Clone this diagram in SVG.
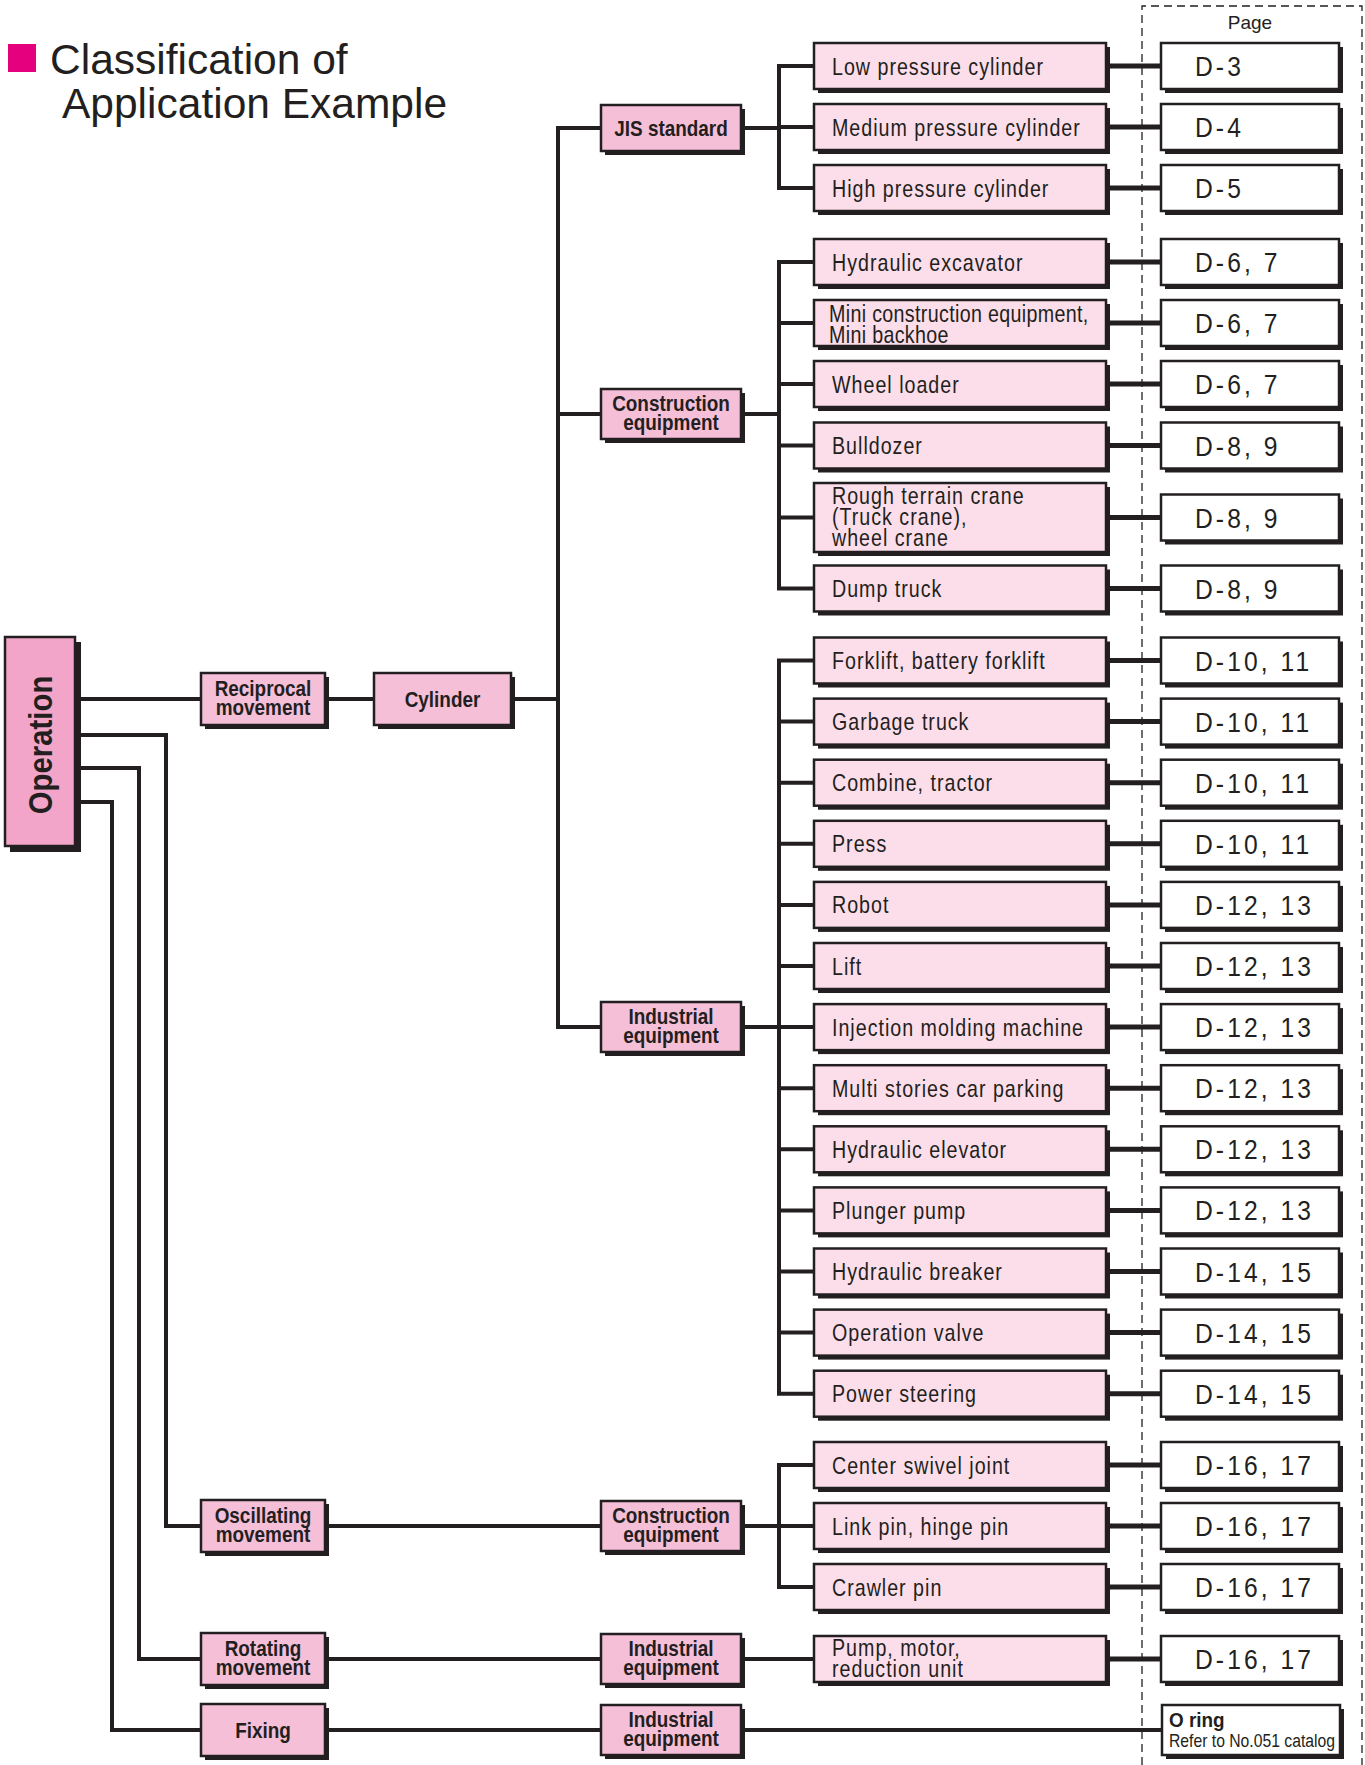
<svg xmlns="http://www.w3.org/2000/svg" width="1365" height="1765" viewBox="0 0 1365 1765">
<style>
.ln{stroke:#231f20;stroke-width:4;fill:none;stroke-linejoin:miter}
.lp{stroke:#231f20;stroke-width:5;fill:none}
.sh{fill:#231f20}
.op{fill:#f2a5c8;stroke:#231f20;stroke-width:2.5}
.lv{fill:#f6bfd8;stroke:#231f20;stroke-width:2.5}
.it{fill:#fcdeea;stroke:#231f20;stroke-width:2.5}
.pg{fill:#ffffff;stroke:#231f20;stroke-width:2.5}
text{fill:#231f20}
.ti{font-family:"Liberation Sans",Arial,sans-serif;font-size:42.5px}
.tit{font-family:"Liberation Sans",Arial,sans-serif;font-size:24px;letter-spacing:1.2px}
.tlv{font-family:"Liberation Sans",Arial,sans-serif;font-size:21.5px;font-weight:bold;text-anchor:middle}
.tpg{font-family:"Liberation Sans",Arial,sans-serif;font-size:28px;letter-spacing:3.5px}
.tpage{font-family:"Liberation Sans",Arial,sans-serif;font-size:19px;text-anchor:middle}
</style>

<g id="title">
<rect x="8" y="44" width="28" height="28" fill="#e5007e"/>
<text class="ti" x="50" y="74">Classification of</text>
<text class="ti" x="62" y="118">Application Example</text>
</g>

<g id="page-frame">
<path d="M1142,1765 V6 H1362 V1765" fill="none" stroke="#231f20" stroke-width="1.3" stroke-dasharray="8 5"/>
<text class="tpage" x="1250" y="29">Page</text>
</g>

<g id="connectors">
<path class="ln" d="M75,699 H201 M325,699 H374 M511,699 H558"/>
<path class="ln" d="M601,128 H558 V1027 H601 M558,414 H601"/>
<path class="ln" d="M741,128 H779 M814,66 H779 V188 H814 M779,127 H814"/>
<path class="ln" d="M741,414 H779 M814,262 H779 V588.5 H814 M779,323 H814 M779,384 H814 M779,445.5 H814 M779,517.5 H814"/>
<path class="ln" d="M741,1027 H779 M814,660.5 H779 V1393.7 H814 M779,721.6 H814 M779,782.7 H814 M779,843.8 H814 M779,904.9 H814 M779,966 H814 M779,1027.1 H814 M779,1088.2 H814 M779,1149.3 H814 M779,1210.4 H814 M779,1271.5 H814 M779,1332.6 H814"/>
<path class="ln" d="M741,1526 H779 M814,1465 H779 V1587 H814 M779,1526 H814"/>
<path class="ln" d="M741,1659 H814"/>
<path class="ln" d="M741,1730 H1162"/>
<path class="ln" d="M75,735 H166 V1526 H201 M75,768 H139 V1659 H201 M75,802 H112 V1730 H201"/>
<path class="ln" d="M325,1526 H601 M325,1659 H601 M325,1730 H601"/>
<path class="lp" d="M1106,66 H1161 M1106,127 H1161 M1106,188 H1161 M1106,262 H1161 M1106,323 H1161 M1106,384 H1161 M1106,445.5 H1161 M1106,517.5 H1161 M1106,588.5 H1161 M1106,660.5 H1161 M1106,721.6 H1161 M1106,782.7 H1161 M1106,843.8 H1161 M1106,904.9 H1161 M1106,966 H1161 M1106,1027.1 H1161 M1106,1088.2 H1161 M1106,1149.3 H1161 M1106,1210.4 H1161 M1106,1271.5 H1161 M1106,1332.6 H1161 M1106,1393.7 H1161 M1106,1465 H1161 M1106,1526 H1161 M1106,1587 H1161 M1106,1659 H1161"/>
</g>

<g id="operation">
<rect class="sh" x="10" y="642" width="71" height="210"/>
<rect class="op" x="5" y="637" width="70" height="209"/>
<text class="tlv" style="font-size:33px" transform="translate(52,745) rotate(-90) scale(0.89,1)">Operation</text>
</g>

<g id="reciprocal">
<rect class="sh" x="205" y="677" width="124" height="52"/>
<rect class="lv" x="201" y="673" width="124" height="52"/>
<text class="tlv" transform="translate(263,696) scale(0.88,1)">Reciprocal</text>
<text class="tlv" transform="translate(263,715) scale(0.88,1)">movement</text>
</g>
<g id="cylinder">
<rect class="sh" x="378" y="677" width="137" height="52"/>
<rect class="lv" x="374" y="673" width="137" height="52"/>
<text class="tlv" transform="translate(442.5,707) scale(0.88,1)">Cylinder</text>
</g>
<g id="oscillating">
<rect class="sh" x="205" y="1504" width="124" height="52"/>
<rect class="lv" x="201" y="1500" width="124" height="52"/>
<text class="tlv" transform="translate(263,1523) scale(0.88,1)">Oscillating</text>
<text class="tlv" transform="translate(263,1542) scale(0.88,1)">movement</text>
</g>
<g id="rotating">
<rect class="sh" x="205" y="1637" width="124" height="52"/>
<rect class="lv" x="201" y="1633" width="124" height="52"/>
<text class="tlv" transform="translate(263,1656) scale(0.88,1)">Rotating</text>
<text class="tlv" transform="translate(263,1675) scale(0.88,1)">movement</text>
</g>
<g id="fixing">
<rect class="sh" x="205" y="1708" width="124" height="52"/>
<rect class="lv" x="201" y="1704" width="124" height="52"/>
<text class="tlv" transform="translate(263,1738) scale(0.88,1)">Fixing</text>
</g>

<g id="jis">
<rect class="sh" x="605" y="109" width="140" height="46"/>
<rect class="lv" x="601" y="105" width="140" height="46"/>
<text class="tlv" transform="translate(671,136) scale(0.88,1)">JIS standard</text>
</g>
<g id="construction1">
<rect class="sh" x="605" y="393" width="140" height="50"/>
<rect class="lv" x="601" y="389" width="140" height="50"/>
<text class="tlv" transform="translate(671,411) scale(0.88,1)">Construction</text>
<text class="tlv" transform="translate(671,430) scale(0.88,1)">equipment</text>
</g>
<g id="industrial1">
<rect class="sh" x="605" y="1006" width="140" height="50"/>
<rect class="lv" x="601" y="1002" width="140" height="50"/>
<text class="tlv" transform="translate(671,1024) scale(0.88,1)">Industrial</text>
<text class="tlv" transform="translate(671,1043) scale(0.88,1)">equipment</text>
</g>
<g id="construction2">
<rect class="sh" x="605" y="1505" width="140" height="50"/>
<rect class="lv" x="601" y="1501" width="140" height="50"/>
<text class="tlv" transform="translate(671,1523) scale(0.88,1)">Construction</text>
<text class="tlv" transform="translate(671,1542) scale(0.88,1)">equipment</text>
</g>
<g id="industrial2">
<rect class="sh" x="605" y="1638" width="140" height="50"/>
<rect class="lv" x="601" y="1634" width="140" height="50"/>
<text class="tlv" transform="translate(671,1656) scale(0.88,1)">Industrial</text>
<text class="tlv" transform="translate(671,1675) scale(0.88,1)">equipment</text>
</g>
<g id="industrial3">
<rect class="sh" x="605" y="1709" width="140" height="50"/>
<rect class="lv" x="601" y="1705" width="140" height="50"/>
<text class="tlv" transform="translate(671,1727) scale(0.88,1)">Industrial</text>
<text class="tlv" transform="translate(671,1746) scale(0.88,1)">equipment</text>
</g>

<g id="items">
<g id="i-low"><rect class="sh" x="818" y="47" width="292" height="46"/><rect class="it" x="814" y="43" width="292" height="46"/><text class="tit" transform="translate(832,74.5) scale(0.82,1)">Low pressure cylinder</text></g>
<g id="i-med"><rect class="sh" x="818" y="108" width="292" height="46"/><rect class="it" x="814" y="104" width="292" height="46"/><text class="tit" transform="translate(832,135.5) scale(0.82,1)">Medium pressure cylinder</text></g>
<g id="i-high"><rect class="sh" x="818" y="169" width="292" height="46"/><rect class="it" x="814" y="165" width="292" height="46"/><text class="tit" transform="translate(832,196.5) scale(0.82,1)">High pressure cylinder</text></g>

<g id="i-exc"><rect class="sh" x="818" y="243" width="292" height="46"/><rect class="it" x="814" y="239" width="292" height="46"/><text class="tit" transform="translate(832,270.5) scale(0.82,1)">Hydraulic excavator</text></g>
<g id="i-mini"><rect class="sh" x="818" y="304" width="292" height="46"/><rect class="it" x="814" y="300" width="292" height="46"/><text class="tit" style="letter-spacing:0.4px" transform="translate(829,322) scale(0.82,1)">Mini construction equipment,</text><text class="tit" style="letter-spacing:0.4px" transform="translate(829,343) scale(0.82,1)">Mini backhoe</text></g>
<g id="i-wheel"><rect class="sh" x="818" y="365" width="292" height="46"/><rect class="it" x="814" y="361" width="292" height="46"/><text class="tit" transform="translate(832,392.5) scale(0.82,1)">Wheel loader</text></g>
<g id="i-bull"><rect class="sh" x="818" y="426.5" width="292" height="46"/><rect class="it" x="814" y="422.5" width="292" height="46"/><text class="tit" transform="translate(832,454) scale(0.82,1)">Bulldozer</text></g>
<g id="i-rough"><rect class="sh" x="818" y="487" width="292" height="69"/><rect class="it" x="814" y="483" width="292" height="69"/><text class="tit" transform="translate(832,504) scale(0.82,1)">Rough terrain crane</text><text class="tit" transform="translate(832,525) scale(0.82,1)">(Truck crane),</text><text class="tit" transform="translate(832,546) scale(0.82,1)">wheel crane</text></g>
<g id="i-dump"><rect class="sh" x="818" y="569.5" width="292" height="46"/><rect class="it" x="814" y="565.5" width="292" height="46"/><text class="tit" transform="translate(832,597) scale(0.82,1)">Dump truck</text></g>

<g id="i-fork"><rect class="sh" x="818" y="641.5" width="292" height="46"/><rect class="it" x="814" y="637.5" width="292" height="46"/><text class="tit" transform="translate(832,669) scale(0.82,1)">Forklift, battery forklift</text></g>
<g id="i-garb"><rect class="sh" x="818" y="702.6" width="292" height="46"/><rect class="it" x="814" y="698.6" width="292" height="46"/><text class="tit" transform="translate(832,730.1) scale(0.82,1)">Garbage truck</text></g>
<g id="i-comb"><rect class="sh" x="818" y="763.7" width="292" height="46"/><rect class="it" x="814" y="759.7" width="292" height="46"/><text class="tit" transform="translate(832,791.2) scale(0.82,1)">Combine, tractor</text></g>
<g id="i-press"><rect class="sh" x="818" y="824.8" width="292" height="46"/><rect class="it" x="814" y="820.8" width="292" height="46"/><text class="tit" transform="translate(832,852.3) scale(0.82,1)">Press</text></g>
<g id="i-robot"><rect class="sh" x="818" y="885.9" width="292" height="46"/><rect class="it" x="814" y="881.9" width="292" height="46"/><text class="tit" transform="translate(832,913.4) scale(0.82,1)">Robot</text></g>
<g id="i-lift"><rect class="sh" x="818" y="947" width="292" height="46"/><rect class="it" x="814" y="943" width="292" height="46"/><text class="tit" transform="translate(832,974.5) scale(0.82,1)">Lift</text></g>
<g id="i-inj"><rect class="sh" x="818" y="1008.1" width="292" height="46"/><rect class="it" x="814" y="1004.1" width="292" height="46"/><text class="tit" transform="translate(832,1035.6) scale(0.82,1)">Injection molding machine</text></g>
<g id="i-park"><rect class="sh" x="818" y="1069.2" width="292" height="46"/><rect class="it" x="814" y="1065.2" width="292" height="46"/><text class="tit" transform="translate(832,1096.7) scale(0.82,1)">Multi stories car parking</text></g>
<g id="i-elev"><rect class="sh" x="818" y="1130.3" width="292" height="46"/><rect class="it" x="814" y="1126.3" width="292" height="46"/><text class="tit" transform="translate(832,1157.8) scale(0.82,1)">Hydraulic elevator</text></g>
<g id="i-plunger"><rect class="sh" x="818" y="1191.4" width="292" height="46"/><rect class="it" x="814" y="1187.4" width="292" height="46"/><text class="tit" transform="translate(832,1218.9) scale(0.82,1)">Plunger pump</text></g>
<g id="i-break"><rect class="sh" x="818" y="1252.5" width="292" height="46"/><rect class="it" x="814" y="1248.5" width="292" height="46"/><text class="tit" transform="translate(832,1280) scale(0.82,1)">Hydraulic breaker</text></g>
<g id="i-valve"><rect class="sh" x="818" y="1313.6" width="292" height="46"/><rect class="it" x="814" y="1309.6" width="292" height="46"/><text class="tit" transform="translate(832,1341.1) scale(0.82,1)">Operation valve</text></g>
<g id="i-steer"><rect class="sh" x="818" y="1374.7" width="292" height="46"/><rect class="it" x="814" y="1370.7" width="292" height="46"/><text class="tit" transform="translate(832,1402.2) scale(0.82,1)">Power steering</text></g>

<g id="i-swivel"><rect class="sh" x="818" y="1446" width="292" height="46"/><rect class="it" x="814" y="1442" width="292" height="46"/><text class="tit" transform="translate(832,1473.5) scale(0.82,1)">Center swivel joint</text></g>
<g id="i-link"><rect class="sh" x="818" y="1507" width="292" height="46"/><rect class="it" x="814" y="1503" width="292" height="46"/><text class="tit" transform="translate(832,1534.5) scale(0.82,1)">Link pin, hinge pin</text></g>
<g id="i-crawl"><rect class="sh" x="818" y="1568" width="292" height="46"/><rect class="it" x="814" y="1564" width="292" height="46"/><text class="tit" transform="translate(832,1595.5) scale(0.82,1)">Crawler pin</text></g>
<g id="i-pump"><rect class="sh" x="818" y="1640" width="292" height="46"/><rect class="it" x="814" y="1636" width="292" height="46"/><text class="tit" transform="translate(832,1656) scale(0.82,1)">Pump, motor,</text><text class="tit" transform="translate(832,1677) scale(0.82,1)">reduction unit</text></g>
</g>

<g id="pages">
<g><rect class="sh" x="1165" y="47" width="178" height="46"/><rect class="pg" x="1161" y="43" width="178" height="46"/><text class="tpg" transform="translate(1195,76) scale(0.88,1)">D-3</text></g>
<g><rect class="sh" x="1165" y="108" width="178" height="46"/><rect class="pg" x="1161" y="104" width="178" height="46"/><text class="tpg" transform="translate(1195,137) scale(0.88,1)">D-4</text></g>
<g><rect class="sh" x="1165" y="169" width="178" height="46"/><rect class="pg" x="1161" y="165" width="178" height="46"/><text class="tpg" transform="translate(1195,198) scale(0.88,1)">D-5</text></g>
<g><rect class="sh" x="1165" y="243" width="178" height="46"/><rect class="pg" x="1161" y="239" width="178" height="46"/><text class="tpg" transform="translate(1195,272) scale(0.88,1)">D-6, 7</text></g>
<g><rect class="sh" x="1165" y="304" width="178" height="46"/><rect class="pg" x="1161" y="300" width="178" height="46"/><text class="tpg" transform="translate(1195,333) scale(0.88,1)">D-6, 7</text></g>
<g><rect class="sh" x="1165" y="365" width="178" height="46"/><rect class="pg" x="1161" y="361" width="178" height="46"/><text class="tpg" transform="translate(1195,394) scale(0.88,1)">D-6, 7</text></g>
<g><rect class="sh" x="1165" y="426.5" width="178" height="46"/><rect class="pg" x="1161" y="422.5" width="178" height="46"/><text class="tpg" transform="translate(1195,455.5) scale(0.88,1)">D-8, 9</text></g>
<g><rect class="sh" x="1165" y="498.5" width="178" height="46"/><rect class="pg" x="1161" y="494.5" width="178" height="46"/><text class="tpg" transform="translate(1195,527.5) scale(0.88,1)">D-8, 9</text></g>
<g><rect class="sh" x="1165" y="569.5" width="178" height="46"/><rect class="pg" x="1161" y="565.5" width="178" height="46"/><text class="tpg" transform="translate(1195,598.5) scale(0.88,1)">D-8, 9</text></g>
<g><rect class="sh" x="1165" y="641.5" width="178" height="46"/><rect class="pg" x="1161" y="637.5" width="178" height="46"/><text class="tpg" transform="translate(1195,670.5) scale(0.88,1)">D-10, 11</text></g>
<g><rect class="sh" x="1165" y="702.6" width="178" height="46"/><rect class="pg" x="1161" y="698.6" width="178" height="46"/><text class="tpg" transform="translate(1195,731.6) scale(0.88,1)">D-10, 11</text></g>
<g><rect class="sh" x="1165" y="763.7" width="178" height="46"/><rect class="pg" x="1161" y="759.7" width="178" height="46"/><text class="tpg" transform="translate(1195,792.7) scale(0.88,1)">D-10, 11</text></g>
<g><rect class="sh" x="1165" y="824.8" width="178" height="46"/><rect class="pg" x="1161" y="820.8" width="178" height="46"/><text class="tpg" transform="translate(1195,853.8) scale(0.88,1)">D-10, 11</text></g>
<g><rect class="sh" x="1165" y="885.9" width="178" height="46"/><rect class="pg" x="1161" y="881.9" width="178" height="46"/><text class="tpg" transform="translate(1195,914.9) scale(0.88,1)">D-12, 13</text></g>
<g><rect class="sh" x="1165" y="947" width="178" height="46"/><rect class="pg" x="1161" y="943" width="178" height="46"/><text class="tpg" transform="translate(1195,976) scale(0.88,1)">D-12, 13</text></g>
<g><rect class="sh" x="1165" y="1008.1" width="178" height="46"/><rect class="pg" x="1161" y="1004.1" width="178" height="46"/><text class="tpg" transform="translate(1195,1037.1) scale(0.88,1)">D-12, 13</text></g>
<g><rect class="sh" x="1165" y="1069.2" width="178" height="46"/><rect class="pg" x="1161" y="1065.2" width="178" height="46"/><text class="tpg" transform="translate(1195,1098.2) scale(0.88,1)">D-12, 13</text></g>
<g><rect class="sh" x="1165" y="1130.3" width="178" height="46"/><rect class="pg" x="1161" y="1126.3" width="178" height="46"/><text class="tpg" transform="translate(1195,1159.3) scale(0.88,1)">D-12, 13</text></g>
<g><rect class="sh" x="1165" y="1191.4" width="178" height="46"/><rect class="pg" x="1161" y="1187.4" width="178" height="46"/><text class="tpg" transform="translate(1195,1220.4) scale(0.88,1)">D-12, 13</text></g>
<g><rect class="sh" x="1165" y="1252.5" width="178" height="46"/><rect class="pg" x="1161" y="1248.5" width="178" height="46"/><text class="tpg" transform="translate(1195,1281.5) scale(0.88,1)">D-14, 15</text></g>
<g><rect class="sh" x="1165" y="1313.6" width="178" height="46"/><rect class="pg" x="1161" y="1309.6" width="178" height="46"/><text class="tpg" transform="translate(1195,1342.6) scale(0.88,1)">D-14, 15</text></g>
<g><rect class="sh" x="1165" y="1374.7" width="178" height="46"/><rect class="pg" x="1161" y="1370.7" width="178" height="46"/><text class="tpg" transform="translate(1195,1403.7) scale(0.88,1)">D-14, 15</text></g>
<g><rect class="sh" x="1165" y="1446" width="178" height="46"/><rect class="pg" x="1161" y="1442" width="178" height="46"/><text class="tpg" transform="translate(1195,1475) scale(0.88,1)">D-16, 17</text></g>
<g><rect class="sh" x="1165" y="1507" width="178" height="46"/><rect class="pg" x="1161" y="1503" width="178" height="46"/><text class="tpg" transform="translate(1195,1536) scale(0.88,1)">D-16, 17</text></g>
<g><rect class="sh" x="1165" y="1568" width="178" height="46"/><rect class="pg" x="1161" y="1564" width="178" height="46"/><text class="tpg" transform="translate(1195,1597) scale(0.88,1)">D-16, 17</text></g>
<g><rect class="sh" x="1165" y="1640" width="178" height="46"/><rect class="pg" x="1161" y="1636" width="178" height="46"/><text class="tpg" transform="translate(1195,1669) scale(0.88,1)">D-16, 17</text></g>
<g id="oring"><rect class="sh" x="1166" y="1709" width="178" height="50"/><rect class="pg" x="1162" y="1705" width="178" height="50"/><text style="font-family:'Liberation Sans',Arial,sans-serif;font-size:21px;font-weight:bold" transform="translate(1169,1727) scale(0.9,1)">O ring</text><text style="font-family:'Liberation Sans',Arial,sans-serif;font-size:18.5px" transform="translate(1169,1747) scale(0.85,1)">Refer to No.051 catalog</text></g>
</g>
</svg>
